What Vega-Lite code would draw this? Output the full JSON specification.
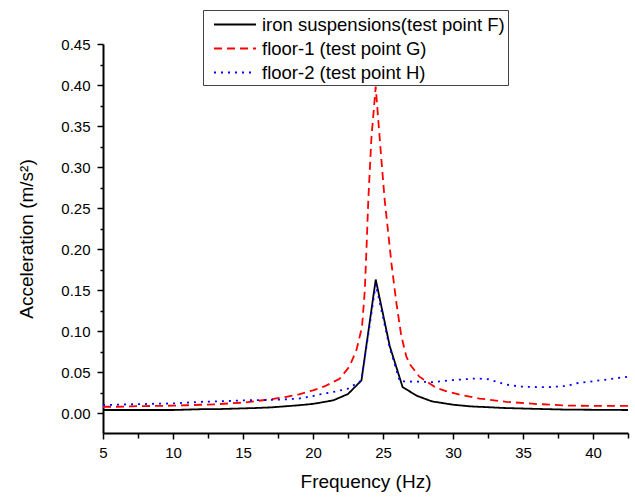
{
  "$schema": "https://vega.github.io/schema/vega-lite/v6.json",
  "autosize": "none",
  "width": 525,
  "height": 389,
  "padding": {"left": 103, "top": 44, "right": 7, "bottom": 64},
  "background": "white",
  "config": {
    "view": {"stroke": null},
    "font": "Liberation Sans",
    "axis": {"grid": false, "domainColor": "black", "domainWidth": 2, "tickColor": "black", "tickWidth": 1.5, "labelColor": "black", "titleColor": "black", "labelFont": "Liberation Sans", "titleFont": "Liberation Sans", "labelFontSize": 15, "titleFontSize": 19, "titleFontWeight": "normal"}
  },
  "data": {
    "values": [
      {"f": 5, "a": 0.004, "s": "iron suspensions(test point F)"},
      {"f": 6, "a": 0.004, "s": "iron suspensions(test point F)"},
      {"f": 7, "a": 0.004, "s": "iron suspensions(test point F)"},
      {"f": 8, "a": 0.004, "s": "iron suspensions(test point F)"},
      {"f": 9, "a": 0.004, "s": "iron suspensions(test point F)"},
      {"f": 10, "a": 0.004, "s": "iron suspensions(test point F)"},
      {"f": 11, "a": 0.0045, "s": "iron suspensions(test point F)"},
      {"f": 12, "a": 0.005, "s": "iron suspensions(test point F)"},
      {"f": 13, "a": 0.005, "s": "iron suspensions(test point F)"},
      {"f": 14, "a": 0.0055, "s": "iron suspensions(test point F)"},
      {"f": 15, "a": 0.006, "s": "iron suspensions(test point F)"},
      {"f": 16, "a": 0.0065, "s": "iron suspensions(test point F)"},
      {"f": 17, "a": 0.0072, "s": "iron suspensions(test point F)"},
      {"f": 18, "a": 0.0085, "s": "iron suspensions(test point F)"},
      {"f": 19, "a": 0.0098, "s": "iron suspensions(test point F)"},
      {"f": 20, "a": 0.0115, "s": "iron suspensions(test point F)"},
      {"f": 20.5, "a": 0.0129, "s": "iron suspensions(test point F)"},
      {"f": 21.45, "a": 0.0158, "s": "iron suspensions(test point F)"},
      {"f": 22.5, "a": 0.0235, "s": "iron suspensions(test point F)"},
      {"f": 23.46, "a": 0.04, "s": "iron suspensions(test point F)"},
      {"f": 24.48, "a": 0.163, "s": "iron suspensions(test point F)"},
      {"f": 25.48, "a": 0.082, "s": "iron suspensions(test point F)"},
      {"f": 26.4, "a": 0.032, "s": "iron suspensions(test point F)"},
      {"f": 27.4, "a": 0.0215, "s": "iron suspensions(test point F)"},
      {"f": 28.5, "a": 0.0145, "s": "iron suspensions(test point F)"},
      {"f": 30, "a": 0.0105, "s": "iron suspensions(test point F)"},
      {"f": 31.2, "a": 0.0085, "s": "iron suspensions(test point F)"},
      {"f": 33.6, "a": 0.0065, "s": "iron suspensions(test point F)"},
      {"f": 35.7, "a": 0.0055, "s": "iron suspensions(test point F)"},
      {"f": 38.1, "a": 0.0045, "s": "iron suspensions(test point F)"},
      {"f": 42.5, "a": 0.004, "s": "iron suspensions(test point F)"},

      {"f": 5, "a": 0.008, "s": "floor-1 (test point G)"},
      {"f": 6, "a": 0.008, "s": "floor-1 (test point G)"},
      {"f": 7, "a": 0.0085, "s": "floor-1 (test point G)"},
      {"f": 8, "a": 0.0088, "s": "floor-1 (test point G)"},
      {"f": 9, "a": 0.009, "s": "floor-1 (test point G)"},
      {"f": 10, "a": 0.0093, "s": "floor-1 (test point G)"},
      {"f": 11, "a": 0.0098, "s": "floor-1 (test point G)"},
      {"f": 12, "a": 0.0104, "s": "floor-1 (test point G)"},
      {"f": 13, "a": 0.011, "s": "floor-1 (test point G)"},
      {"f": 14, "a": 0.012, "s": "floor-1 (test point G)"},
      {"f": 15, "a": 0.013, "s": "floor-1 (test point G)"},
      {"f": 16, "a": 0.015, "s": "floor-1 (test point G)"},
      {"f": 17, "a": 0.0172, "s": "floor-1 (test point G)"},
      {"f": 18, "a": 0.0198, "s": "floor-1 (test point G)"},
      {"f": 19, "a": 0.0232, "s": "floor-1 (test point G)"},
      {"f": 20, "a": 0.028, "s": "floor-1 (test point G)"},
      {"f": 20.85, "a": 0.033, "s": "floor-1 (test point G)"},
      {"f": 21.9, "a": 0.042, "s": "floor-1 (test point G)"},
      {"f": 22.6, "a": 0.057, "s": "floor-1 (test point G)"},
      {"f": 23.1, "a": 0.077, "s": "floor-1 (test point G)"},
      {"f": 23.5, "a": 0.105, "s": "floor-1 (test point G)"},
      {"f": 23.7, "a": 0.15, "s": "floor-1 (test point G)"},
      {"f": 23.82, "a": 0.2, "s": "floor-1 (test point G)"},
      {"f": 23.95, "a": 0.26, "s": "floor-1 (test point G)"},
      {"f": 24.17, "a": 0.335, "s": "floor-1 (test point G)"},
      {"f": 24.48, "a": 0.398, "s": "floor-1 (test point G)"},
      {"f": 24.65, "a": 0.36, "s": "floor-1 (test point G)"},
      {"f": 24.88, "a": 0.31, "s": "floor-1 (test point G)"},
      {"f": 25.12, "a": 0.26, "s": "floor-1 (test point G)"},
      {"f": 25.36, "a": 0.222, "s": "floor-1 (test point G)"},
      {"f": 25.6, "a": 0.183, "s": "floor-1 (test point G)"},
      {"f": 25.96, "a": 0.134, "s": "floor-1 (test point G)"},
      {"f": 26.3, "a": 0.095, "s": "floor-1 (test point G)"},
      {"f": 26.67, "a": 0.069, "s": "floor-1 (test point G)"},
      {"f": 26.95, "a": 0.059, "s": "floor-1 (test point G)"},
      {"f": 27.6, "a": 0.0446, "s": "floor-1 (test point G)"},
      {"f": 28.8, "a": 0.031, "s": "floor-1 (test point G)"},
      {"f": 29.5, "a": 0.027, "s": "floor-1 (test point G)"},
      {"f": 30.5, "a": 0.0225, "s": "floor-1 (test point G)"},
      {"f": 31.9, "a": 0.018, "s": "floor-1 (test point G)"},
      {"f": 33.8, "a": 0.014, "s": "floor-1 (test point G)"},
      {"f": 36, "a": 0.0113, "s": "floor-1 (test point G)"},
      {"f": 38.3, "a": 0.0094, "s": "floor-1 (test point G)"},
      {"f": 40, "a": 0.009, "s": "floor-1 (test point G)"},
      {"f": 42.5, "a": 0.009, "s": "floor-1 (test point G)"},

      {"f": 5, "a": 0.0101, "s": "floor-2 (test point H)"},
      {"f": 6, "a": 0.0105, "s": "floor-2 (test point H)"},
      {"f": 7, "a": 0.011, "s": "floor-2 (test point H)"},
      {"f": 8, "a": 0.0113, "s": "floor-2 (test point H)"},
      {"f": 9, "a": 0.0118, "s": "floor-2 (test point H)"},
      {"f": 10, "a": 0.012, "s": "floor-2 (test point H)"},
      {"f": 11, "a": 0.013, "s": "floor-2 (test point H)"},
      {"f": 12, "a": 0.014, "s": "floor-2 (test point H)"},
      {"f": 13, "a": 0.0145, "s": "floor-2 (test point H)"},
      {"f": 14, "a": 0.015, "s": "floor-2 (test point H)"},
      {"f": 15, "a": 0.0158, "s": "floor-2 (test point H)"},
      {"f": 16, "a": 0.016, "s": "floor-2 (test point H)"},
      {"f": 17, "a": 0.0163, "s": "floor-2 (test point H)"},
      {"f": 18, "a": 0.017, "s": "floor-2 (test point H)"},
      {"f": 19, "a": 0.018, "s": "floor-2 (test point H)"},
      {"f": 20, "a": 0.021, "s": "floor-2 (test point H)"},
      {"f": 20.5, "a": 0.023, "s": "floor-2 (test point H)"},
      {"f": 21.45, "a": 0.026, "s": "floor-2 (test point H)"},
      {"f": 22.5, "a": 0.03, "s": "floor-2 (test point H)"},
      {"f": 23.46, "a": 0.04, "s": "floor-2 (test point H)"},
      {"f": 24.48, "a": 0.157, "s": "floor-2 (test point H)"},
      {"f": 25.48, "a": 0.08, "s": "floor-2 (test point H)"},
      {"f": 26.2, "a": 0.039, "s": "floor-2 (test point H)"},
      {"f": 27.6, "a": 0.0385, "s": "floor-2 (test point H)"},
      {"f": 28.5, "a": 0.038, "s": "floor-2 (test point H)"},
      {"f": 30, "a": 0.0405, "s": "floor-2 (test point H)"},
      {"f": 31.7, "a": 0.0425, "s": "floor-2 (test point H)"},
      {"f": 32.5, "a": 0.0415, "s": "floor-2 (test point H)"},
      {"f": 33.8, "a": 0.035, "s": "floor-2 (test point H)"},
      {"f": 34.8, "a": 0.0325, "s": "floor-2 (test point H)"},
      {"f": 36.7, "a": 0.0317, "s": "floor-2 (test point H)"},
      {"f": 38.1, "a": 0.0333, "s": "floor-2 (test point H)"},
      {"f": 38.8, "a": 0.0366, "s": "floor-2 (test point H)"},
      {"f": 40.7, "a": 0.0406, "s": "floor-2 (test point H)"},
      {"f": 42.5, "a": 0.0446, "s": "floor-2 (test point H)"}
    ]
  },
  "mark": {"type": "line", "clip": true},
  "encoding": {
    "x": {
      "field": "f", "type": "quantitative",
      "scale": {"domain": [5, 42.5], "nice": false, "zero": false},
      "axis": {
        "title": "Frequency (Hz)",
        "values": [5, 7.5, 10, 12.5, 15, 17.5, 20, 22.5, 25, 27.5, 30, 32.5, 35, 37.5, 40, 42.5],
        "labelExpr": "datum.value % 5 == 0 ? format(datum.value, 'd') : ''",
        "tickSize": {"condition": {"test": "datum.value % 5 == 0", "value": 6}, "value": 5},
        "labelPadding": 6,
        "titlePadding": 12,
        "labelFlush": false,
        "labelOverlap": false
      }
    },
    "y": {
      "field": "a", "type": "quantitative",
      "scale": {"domain": [-0.024, 0.45], "nice": false, "zero": false},
      "axis": {
        "title": "Acceleration (m/s²)",
        "values": [0, 0.025, 0.05, 0.075, 0.1, 0.125, 0.15, 0.175, 0.2, 0.225, 0.25, 0.275, 0.3, 0.325, 0.35, 0.375, 0.4, 0.425, 0.45],
        "labelExpr": "round(datum.value * 1000) % 50 == 0 ? format(datum.value, '.2f') : ''",
        "tickSize": {"condition": {"test": "round(datum.value * 1000) % 50 == 0", "value": 6}, "value": 3},
        "labelPadding": 7,
        "titlePadding": 24,
        "labelOverlap": false
      }
    },
    "color": {
      "field": "s", "type": "nominal",
      "scale": {"domain": ["iron suspensions(test point F)", "floor-1 (test point G)", "floor-2 (test point H)"], "range": ["#000000", "#ff0000", "#0000ff"]},
      "legend": {
        "title": null, "orient": "none", "legendX": 100, "legendY": -34,
        "strokeColor": "#444444", "fillColor": "white", "padding": 3,
        "symbolType": "M-2,0H2", "symbolSize": 441, "symbolOffset": 17.5, "symbolStrokeWidth": 1.8,
        "labelFontSize": 18.5, "labelFont": "Liberation Sans", "labelColor": "black", "labelOffset": 15.5,
        "rowPadding": 3, "labelLimit": 400
      }
    },
    "strokeDash": {
      "field": "s", "type": "nominal",
      "scale": {"domain": ["iron suspensions(test point F)", "floor-1 (test point G)", "floor-2 (test point H)"], "range": [[1, 0], [8, 5], [2, 5]]},
      "legend": {
        "title": null, "orient": "none", "legendX": 100, "legendY": -34,
        "strokeColor": "#444444", "fillColor": "white", "padding": 3,
        "symbolType": "M-2,0H2", "symbolSize": 441, "symbolOffset": 17.5, "symbolStrokeWidth": 1.8,
        "labelFontSize": 18.5, "labelFont": "Liberation Sans", "labelColor": "black", "labelOffset": 15.5,
        "rowPadding": 3, "labelLimit": 400
      }
    },
    "strokeWidth": {"value": 1.8}
  }
}
